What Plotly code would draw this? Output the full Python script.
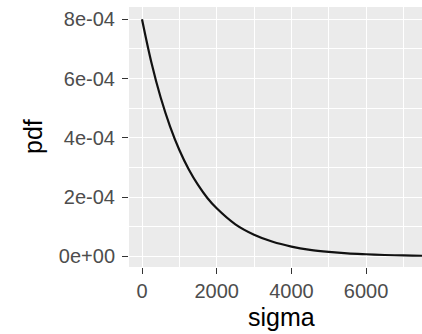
import plotly.graph_objects as go

# values
sigma = [0, 250, 500, 750, 1000, 1250, 1500, 1750, 2000, 2500, 3000, 3500,
         4000, 4500, 5000, 5500, 6000, 6500, 7000, 7500, 8000]
pdf = [8.0e-4, 6.55e-4, 5.36e-4, 4.39e-4, 3.59e-4, 2.94e-4, 2.41e-4, 1.97e-4,
       1.62e-4, 1.08e-4, 0.73e-4, 0.49e-4, 0.33e-4, 0.22e-4, 0.15e-4, 0.10e-4,
       0.07e-4, 0.045e-4, 0.03e-4, 0.02e-4, 0.013e-4]

x_ticks = [0, 2000, 4000, 6000]
x_labels = ["0", "2000", "4000", "6000"]
y_ticks = [0, 2e-4, 4e-4, 6e-4, 8e-4]
y_labels = ["0e+00", "2e-04", "4e-04", "6e-04", "8e-04"]

fig = go.Figure()
fig.add_trace(go.Scatter(x=sigma, y=pdf, mode="lines",
                         line=dict(color="#111111", width=2.2, shape="spline"),
                         showlegend=False, hoverinfo="skip"))

FAM = "Liberation Sans, Arial, sans-serif"
tickfont = dict(family=FAM, size=20, color="#4d4d4d")

fig.update_layout(
    width=422, height=334,
    margin=dict(l=129, r=0, t=7, b=67),
    paper_bgcolor="white",
    plot_bgcolor="#ebebeb",
    font=dict(family=FAM),
    xaxis=dict(range=[-348, 7497], tickvals=x_ticks, ticktext=x_labels,
               showgrid=True, gridcolor="white", gridwidth=1.4,
               minor=dict(tickvals=[1000, 3000, 5000, 7000], showgrid=True,
                          gridcolor="white", gridwidth=0.7, ticks=""),
               zeroline=False, showline=False,
               ticks="outside", ticklen=6, tickwidth=1.4, tickcolor="#333333",
               tickfont=tickfont, ticklabelstandoff=0, fixedrange=True),
    yaxis=dict(range=[-0.36e-4, 8.415e-4], tickvals=y_ticks, ticktext=y_labels,
               showgrid=True, gridcolor="white", gridwidth=1.4,
               minor=dict(tickvals=[1e-4, 3e-4, 5e-4, 7e-4], showgrid=True,
                          gridcolor="white", gridwidth=0.7, ticks=""),
               zeroline=False, showline=False,
               ticks="outside", ticklen=6, tickwidth=1.4, tickcolor="#333333",
               tickfont=tickfont, ticklabelstandoff=3, fixedrange=True),
    annotations=[
        dict(text="sigma", xref="paper", yref="paper", x=0.522, y=0,
             yshift=-34, xanchor="center", yanchor="top", showarrow=False,
             font=dict(size=25, color="black", family=FAM)),
        dict(text="pdf", xref="paper", yref="paper", x=0, y=0.5,
             xshift=-80, xanchor="right", yanchor="middle", textangle=-90,
             showarrow=False,
             font=dict(size=25, color="black", family=FAM)),
    ],
)

fig.write_html("out.html", config={"displayModeBar": False})
